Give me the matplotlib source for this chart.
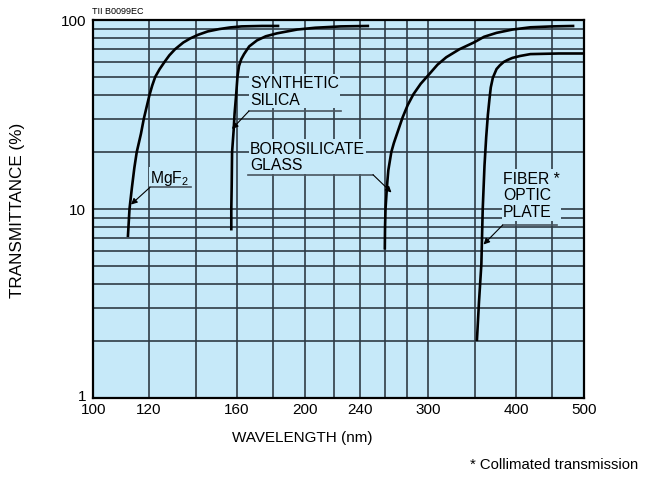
import matplotlib
matplotlib.use("Agg")
import matplotlib.pyplot as plt
import matplotlib.transforms as mtransforms
from matplotlib.lines import Line2D
from matplotlib.patches import FancyArrowPatch

plt.rcParams['font.family'] = ['Liberation Sans', 'DejaVu Sans']
plt.rcParams['mathtext.fontset'] = 'custom'
plt.rcParams['mathtext.rm'] = 'Liberation Sans'
plt.rcParams['mathtext.default'] = 'regular'

# ---- data ----
mgf2_wl = [112.0, 112.6, 113.5, 114.4, 115.3, 116.9, 118.0, 120.2, 121.3, 122.5, 124.3, 126.3,
           128.3, 130.7, 134.3, 137.5, 141.0, 145.5, 151.0, 156.5, 162.5, 174.0, 184.0]
mgf2_t = [7.1, 10.0, 13.0, 16.5, 20.0, 25.0, 30.0, 40.0, 45.0, 50.0, 55.0, 60.0,
          65.0, 70.0, 76.0, 80.0, 83.5, 87.0, 89.5, 91.3, 92.5, 93.0, 93.0]

silica_wl = [157.2, 157.2, 157.4, 157.6, 158.4, 158.9, 159.7, 160.4, 161.2, 162.4, 163.9, 166.7,
             171.0, 176.0, 182.6, 195.0, 207.0, 225.0, 247.0]
silica_t = [7.7, 10.0, 13.3, 20.0, 26.0, 32.0, 40.0, 50.0, 57.0, 62.0, 66.0, 72.5,
            78.0, 82.0, 85.0, 89.0, 91.0, 92.5, 93.0]

boro_wl = [260.0, 260.2, 260.6, 261.5, 262.2, 263.0, 265.6, 267.8, 270.3, 275.6, 280.3, 285.6,
           292.5, 300.5, 309.0, 318.0, 332.0, 348.0, 360.0, 375.0, 395.0, 419.0, 450.0, 484.0]
boro_t = [6.1, 8.0, 10.0, 12.2, 14.0, 16.0, 20.0, 22.3, 24.7, 30.5, 35.5, 40.5,
          46.0, 51.5, 58.0, 63.5, 70.0, 76.0, 81.5, 85.5, 89.0, 91.5, 92.5, 93.0]

fiber_wl = [351.6, 354.0, 356.8, 358.4, 360.5, 362.5, 364.5, 366.5, 368.0, 370.5, 375.0, 379.0,
            384.0, 389.0, 395.0, 405.0, 419.0, 460.0, 500.0]
fiber_t = [2.0, 3.2, 5.1, 10.0, 17.0, 24.0, 31.5, 38.5, 44.0, 49.5, 55.0, 57.5,
           60.0, 61.5, 63.0, 64.5, 66.0, 66.5, 66.5]

x_grid = [120, 140, 160, 180, 200, 220, 240, 260, 280, 300, 350, 400, 450]
y_grid = [2, 3, 4, 5, 6, 7, 8, 9, 10, 20, 30, 40, 50, 60, 70, 80, 90]
x_ticks = [100, 120, 160, 200, 240, 300, 400, 500]
y_ticks = [1, 10, 100]

# ---- figure ----
W, H = 646, 485
fig = plt.figure(figsize=(W / 100, H / 100), dpi=100)
ax = fig.add_axes([93.3 / W, 1 - 399 / H, (584.3 - 93.3) / W, (399 - 21) / H])
bg = '#c6e9f9'
grid_c = '#2f3c45'
ax.set_facecolor(bg)
ax.set_xscale('log')
ax.set_yscale('log')
ax.set_xlim(100, 500)
ax.set_ylim(1, 100)

for gx in x_grid:
    ax.axvline(gx, color=grid_c, lw=1.2, zorder=1)
for gy in y_grid:
    ax.axhline(gy, color=grid_c, lw=1.2, zorder=1)

for wl, t in [(mgf2_wl, mgf2_t), (silica_wl, silica_t), (boro_wl, boro_t), (fiber_wl, fiber_t)]:
    ax.plot(wl, t, color='black', lw=1.9, solid_capstyle='butt', solid_joinstyle='round', zorder=3)

ax.set_xticks(x_ticks)
ax.set_xticklabels([str(v) for v in x_ticks])
ax.set_yticks(y_ticks)
ax.set_yticklabels([str(v) for v in y_ticks])
ax.minorticks_off()
ax.tick_params(length=0, labelsize=11, colors='black')
ax.tick_params(axis='x', pad=3)
ax.tick_params(axis='y', pad=5)
# lift the "1" label slightly, as in the reference
lbl = ax.get_yticklabels()[0]
lbl.set_transform(lbl.get_transform() + mtransforms.ScaledTranslation(0, 3 / 100, fig.dpi_scale_trans))
for s in ax.spines.values():
    s.set_linewidth(1.6)
    s.set_color('black')
    s.set_zorder(5)


def fx(x):
    return x / W


def fy(y):
    return 1 - y / H


def label(x, y, txt):
    fig.text(fx(x), fy(y), txt, fontsize=11.3, va='center', ha='left', linespacing=1.15,
             bbox=dict(facecolor=bg, edgecolor='none', pad=1.0), zorder=6)


def uline(xs, ys):
    fig.add_artist(Line2D([fx(v) for v in xs], [fy(v) for v in ys], color='#4a5660', lw=1.2, zorder=8))


def arrow(x0, y0, x1, y1):
    fig.add_artist(FancyArrowPatch((fx(x0), fy(y0)), (fx(x1), fy(y1)),
                   transform=fig.transFigure, arrowstyle='-|>', mutation_scale=9,
                   color='black', lw=0.8, zorder=9, shrinkA=0, shrinkB=0))


label(150, 178.5, 'MgF$_2$')
uline([150, 191], [188.3, 188.3])
arrow(150, 188.3, 131, 205.5)

label(250, 92, 'SYNTHETIC\nSILICA')
uline([249, 341], [111.7, 111.7])
arrow(249, 112, 232, 130)

label(250, 157.5, 'BOROSILICATE\nGLASS')
uline([248, 373], [175.7, 175.7])
arrow(373, 175.7, 391.5, 193.5)

label(503, 196, 'FIBER *\nOPTIC\nPLATE')
uline([502.7, 556.7], [226, 226])
arrow(502.7, 226, 483.5, 245.5)

fig.text(fx(92), fy(12), 'TII B0099EC', fontsize=6.5, ha='left', va='center')
fig.text(fx(18), fy(210), 'TRANSMITTANCE (%)', fontsize=12.3, rotation=90, ha='center', va='center')
fig.text(fx(302), fy(438), 'WAVELENGTH (nm)', fontsize=11, ha='center', va='center')
fig.text(fx(638), fy(465), '* Collimated transmission', fontsize=10.7, ha='right', va='center')

fig.savefig('out.png', dpi=100)
